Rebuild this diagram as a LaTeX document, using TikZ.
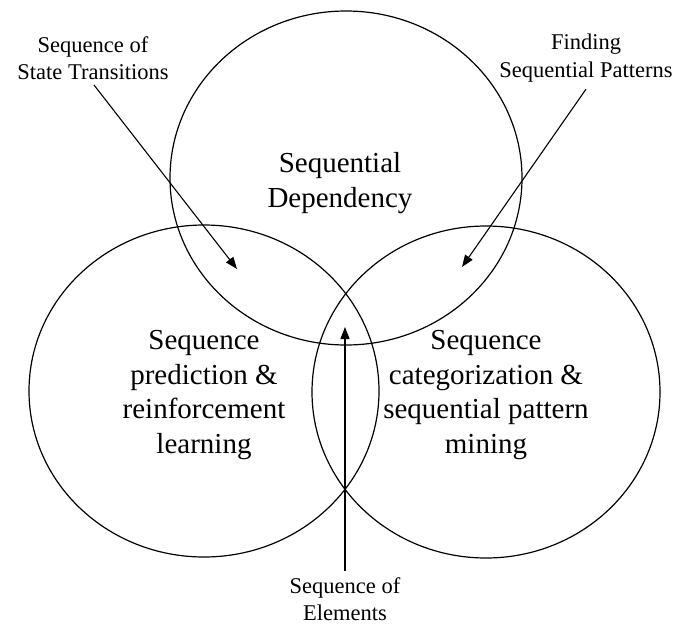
\documentclass[tikz,border=0pt]{standalone}
\usepackage{fontspec}
\setmainfont{Liberation Serif}
\usetikzlibrary{arrows.meta}
\begin{document}
\begin{tikzpicture}[x=1pt,y=-1pt,
  ring/.style={draw=black,line width=1.2pt},
  bigtext/.style={align=center,font=\fontsize{29}{34.5}\selectfont,inner sep=0pt},
  smalltext/.style={align=center,font=\fontsize{22.5}{27.5}\selectfont,inner sep=0pt},
  pointer/.style={draw=black,line width=1.1pt,-{Triangle[length=12pt,width=9pt]}}]
\useasboundingbox (0,0) rectangle (674,627);
\draw[ring] (346,178) ellipse [x radius=176, y radius=167];
\draw[ring] (204,391) ellipse [x radius=175, y radius=166];
\draw[ring] (486,392) ellipse [x radius=174, y radius=166];
\node[bigtext] (dep) at (340,183) {Sequential\\Dependency};
\node[bigtext] (pred) at (204,395) {Sequence\\prediction \&\\reinforcement\\learning};
\node[bigtext] (cat) at (486,395) {Sequence\\categorization \&\\sequential pattern\\mining};
\node[smalltext] (st) at (93,58) {Sequence of\\State Transitions};
\node[smalltext] (fp) at (586,58) {Finding\\Sequential Patterns};
\node[smalltext] (el) at (345,599) {Sequence of\\Elements};
\coordinate (t1) at (237,269);
\coordinate (t2) at (462,267);
\coordinate (t3) at (345,327);
\draw[pointer] (st.south) ++(1,5) coordinate (s1) -- (t1);
\draw[pointer] (fp.south) ++(0,7) coordinate (s2) -- (t2);
\draw[pointer] (el.north) ++(0,-6) coordinate (s3) -- (t3);
\end{tikzpicture}
\end{document}
